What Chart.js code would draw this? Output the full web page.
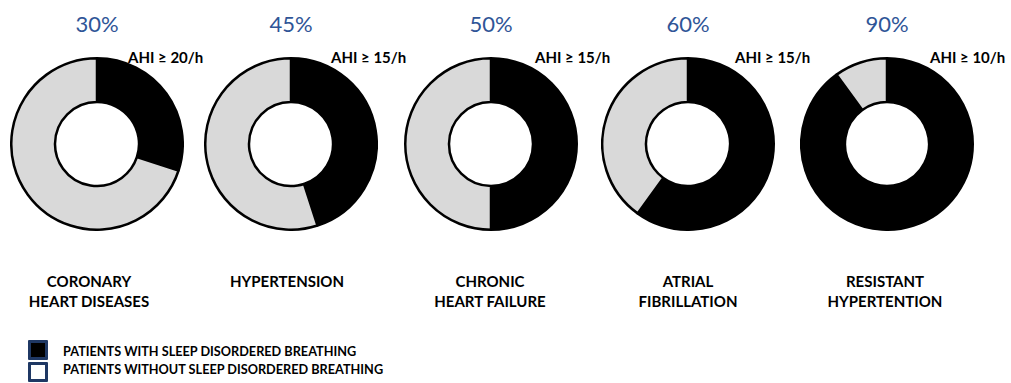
<!DOCTYPE html>
<html>
<head>
<meta charset="utf-8">
<script src="https://cdn.jsdelivr.net/npm/chart.js@4"></script>
<style>
  body { margin: 0; background: #fff; font-family: Lato, "Open Sans", sans-serif; color: #000; }
  #wrap { position: relative; width: 1011px; height: 383px; overflow: hidden; }
  .pct { position: absolute; top: 8px; width: 200px; text-align: center; font-size: 22px; line-height: 32px; color: #2f5597; }
  .ahi { position: absolute; top: 48px; font-weight: 700; font-size: 15px; line-height: 18px; white-space: nowrap; }
  .ring { position: absolute; top: 57px; width: 174px; height: 174px; }
  .cat { position: absolute; top: 271px; width: 240px; text-align: center; font-weight: 700; font-size: 15px; line-height: 20px; }
  .key { position: absolute; left: 28px; width: 14px; height: 14px; border: 3px solid #1f3864; border-radius: 1px; }
  .keytxt { position: absolute; left: 63px; font-weight: 700; font-size: 12.7px; line-height: 16px; white-space: nowrap; }
</style>
</head>
<body>
<div id="wrap"></div>
<script>
// share of patients with / without sleep disordered breathing, per disease
const diseases = ['CORONARY\nHEART DISEASES', 'HYPERTENSION', 'CHRONIC\nHEART FAILURE', 'ATRIAL\nFIBRILLATION', 'RESISTANT\nHYPERTENTION'];
const thresholds = ['AHI ≥ 20/h', 'AHI ≥ 15/h', 'AHI ≥ 15/h', 'AHI ≥ 15/h', 'AHI ≥ 10/h'];
const withSdb = [30, 45, 50, 60, 90];
const withoutSdb = [70, 55, 50, 40, 10];
const seriesNames = ['PATIENTS WITH SLEEP DISORDERED BREATHING', 'PATIENTS WITHOUT SLEEP DISORDERED BREATHING'];

// layout
const centres = [97, 291, 491, 688, 887];
const ahiLeft = [128, 331, 535, 735, 930];
const catCentres = [89, 287, 490, 688, 885];
const colours = ['#000000', '#d9d9d9'];

const wrap = document.getElementById('wrap');

function el(cls, text, style) {
  const d = document.createElement('div');
  d.className = cls;
  if (text) d.textContent = text;
  Object.assign(d.style, style || {});
  wrap.appendChild(d);
  return d;
}

diseases.forEach((name, i) => {
  const cx = centres[i];
  el('pct', withSdb[i] + '%', { left: (cx - 100) + 'px' });
  el('ahi', thresholds[i], { left: ahiLeft[i] + 'px' });

  const box = el('ring', null, { left: (cx - 87) + 'px' });
  const canvas = document.createElement('canvas');
  canvas.width = 174;
  canvas.height = 174;
  box.appendChild(canvas);

  const cat = el('cat', null, { left: (catCentres[i] - 120) + 'px' });
  cat.innerHTML = name.split('\n').join('<br>');

  new Chart(canvas, {
    type: 'doughnut',
    data: {
      labels: seriesNames,
      datasets: [{
        data: [withSdb[i], withoutSdb[i]],
        backgroundColor: colours,
        borderColor: '#000',
        borderWidth: 2.5
      }]
    },
    options: {
      responsive: false,
      animation: false,
      events: [],
      cutout: '49%',
      plugins: {
        legend: { display: false },
        tooltip: { enabled: false }
      }
    }
  });
});

// shared legend
el('key', null, { top: '340px', background: colours[0] });
el('keytxt', seriesNames[0], { top: '343px' });
el('key', null, { top: '362px', background: '#fff' });
el('keytxt', seriesNames[1], { top: '361px' });
</script>
</body>
</html>
